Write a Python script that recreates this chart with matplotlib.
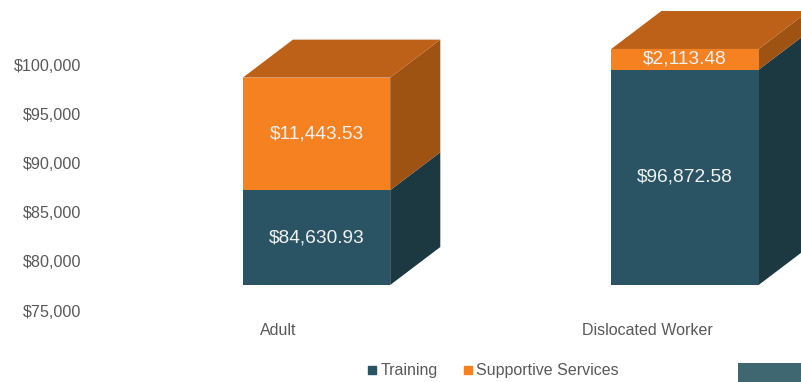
import matplotlib.pyplot as plt
from matplotlib.patches import Polygon, Rectangle
from matplotlib.lines import Line2D

plt.rcParams['font.family'] = ['Liberation Sans', 'DejaVu Sans']

# data
categories = ['Adult', 'Dislocated Worker']
training = [84630.93, 96872.58]
supportive = [11443.53, 2113.48]
y_ticks = [75000, 80000, 85000, 90000, 95000, 100000]
series_names = ['Training', 'Supportive Services']

# colours (front, side, top)
train_cols = ('#2A5463', '#1C3841', '#234753')
supp_cols = ('#F68121', '#9F5313', '#BD6118')
text_gray = '#595959'

base = 75000
width = 0.40
depth_x = 0.136
depth_y = 3860
wall_shift = 2750  # tick labels sit on the back wall


def draw_box(ax, x0, y0, y1, cols, top=True):
    x1 = x0 + width
    side = Polygon([(x1, y0), (x1, y1), (x1 + depth_x, y1 + depth_y),
                    (x1 + depth_x, y0 + depth_y)], closed=True,
                   facecolor=cols[1], edgecolor='none')
    ax.add_patch(side)
    ax.add_patch(Rectangle((x0, y0), width, y1 - y0,
                           facecolor=cols[0], edgecolor='none'))
    if top:
        ax.add_patch(Polygon([(x0, y1), (x1, y1), (x1 + depth_x, y1 + depth_y),
                              (x0 + depth_x, y1 + depth_y)], closed=True,
                             facecolor=cols[2], edgecolor='none'))


fig = plt.figure(figsize=(8.01, 3.82), dpi=100)
ax = fig.add_axes([0, 0, 1, 1])
ax.set_xlim(-0.859, 1.315)
ax.set_ylim(65142, 103963)
ax.axis('off')

for i, cat in enumerate(categories):
    x0 = i - width / 2
    t_top = training[i]
    s_top = t_top + supportive[i]
    draw_box(ax, x0, base, t_top, train_cols, top=False)
    draw_box(ax, x0, t_top, s_top, supp_cols, top=True)
    ax.text(i, (base + t_top) / 2, f"${training[i]:,.2f}", ha='center',
            va='center', color='#F2F2F2', fontsize=13.8)
    ax.text(i, (t_top + s_top) / 2, f"${supportive[i]:,.2f}", ha='center',
            va='center', color='#F2F2F2', fontsize=13.8)
    ax.text(i - 0.103, 70330, cat, ha='center', va='center',
            color=text_gray, fontsize=11.5)

for v in y_ticks:
    ax.text(81 / 801, v - wall_shift, f"${v:,}", ha='right', va='center',
            color=text_gray, fontsize=11.6,
            transform=ax.get_yaxis_transform())

handles = [Line2D([], [], marker='s', linestyle='none', markersize=6,
                  color=c) for c in (train_cols[0], supp_cols[0])]
fig.legend(handles, series_names, loc='center', bbox_to_anchor=(493 / 801, 1 - 371 / 382),
           ncol=2, frameon=False, fontsize=11.5, labelcolor=text_gray,
           handlelength=0.6, handletextpad=0.2, columnspacing=1.6)

# partial element at bottom-right edge
fig.patches.append(Rectangle((738 / 801, 0), 63 / 801, 19 / 382,
                             transform=fig.transFigure, facecolor='#3E6771',
                             edgecolor='none'))

fig.savefig('out.png', dpi=100)
